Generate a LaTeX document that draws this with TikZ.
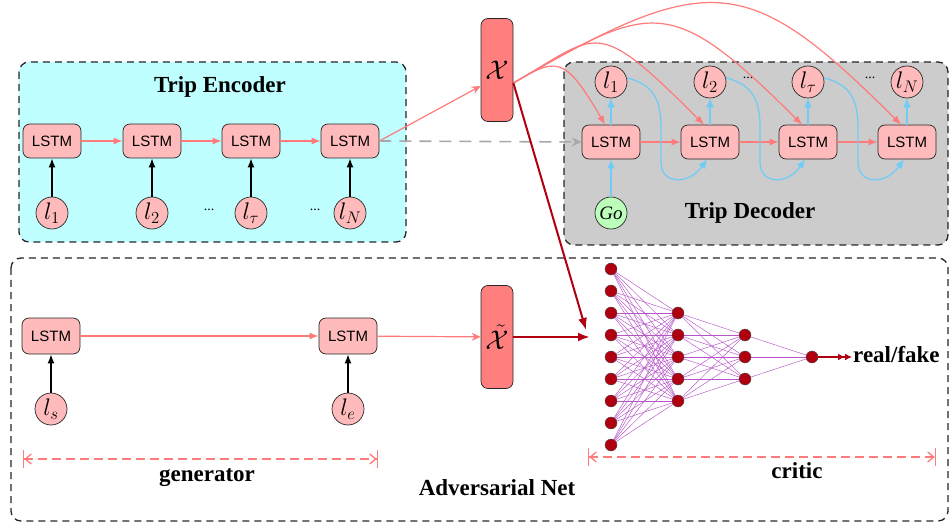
\RequirePackage{fix-cm}
\documentclass[tikz,border=0pt]{standalone}
\usepackage{fontspec}
\setmainfont{Liberation Serif}
\setsansfont{Liberation Sans}
\usetikzlibrary{arrows.meta,calc}

\definecolor{encfill}{HTML}{BFFFFF}
\definecolor{decfill}{HTML}{CCCCCC}
\definecolor{lstmfill}{HTML}{FFBBBB}
\definecolor{xfill}{HTML}{FF7F7F}
\definecolor{pinkline}{HTML}{FF7A7A}
\definecolor{blueline}{HTML}{70CCF5}
\definecolor{darkred}{HTML}{B00010}
\definecolor{nnedgecol}{HTML}{B555C8}
\definecolor{gofill}{HTML}{BBFFBB}
\definecolor{dashgray}{HTML}{A8A8A8}

\begin{document}
\begin{tikzpicture}[x=1pt,y=-1pt,
  groupbox/.style={draw=black!85, line width=1.3pt, dash pattern=on 7pt off 5pt, rounded corners=10pt},
  lstmbox/.style={draw=black!85, fill=lstmfill, rounded corners=7pt, minimum width=58pt, minimum height=34pt, inner sep=0pt, font=\sffamily\fontsize{15}{18}\selectfont, line width=0.7pt},
  locnode/.style={circle, draw=black!85, fill=lstmfill, minimum size=32pt, inner sep=0pt, font=\fontsize{24}{28}\selectfont, line width=0.7pt},
  gonode/.style={locnode, fill=gofill, font=\fontsize{19}{22}\selectfont},
  xbox/.style={draw=black!85, fill=xfill, rounded corners=7pt, minimum width=32pt, minimum height=103pt, inner sep=0pt, font=\fontsize{27}{30}\selectfont, line width=0.7pt},
  pinkarrow/.style={draw=pinkline, line width=1.2pt, -{Latex[length=9pt,width=7pt]}},
  pinkthin/.style={draw=pinkline, line width=1.2pt, -{Stealth[length=9pt,width=8pt]}},
  blackarrow/.style={draw=black, line width=1.5pt, -{Latex[length=9pt,width=7pt]}},
  bluearrow/.style={draw=blueline, line width=1.3pt, -{Latex[length=9pt,width=8pt]}},
  grayarrow/.style={draw=dashgray, line width=1.6pt, dash pattern=on 12pt off 8pt, -{Stealth[length=10pt,width=9pt]}},
  darkarrow/.style={draw=darkred, line width=2pt, -{Latex[length=12pt,width=9pt]}},
  dimline/.style={draw=pinkline, line width=1.3pt, dash pattern=on 9pt off 5pt, {Bar[width=18pt]Straight Barb[length=6pt,width=10pt]}-{Straight Barb[length=6pt,width=10pt]Bar[width=18pt]}},
  nnedge/.style={draw=nnedgecol, line width=0.45pt},
  nnnode/.style={circle, fill=darkred, draw=gray!60!black, line width=0.4pt, minimum size=12pt, inner sep=0pt},
  labelfont/.style={font=\bfseries\fontsize{23}{27}\selectfont},
  dotsfont/.style={font=\fontsize{14}{16}\selectfont}
]
\useasboundingbox (0,0) rectangle (950,529);

% group boxes
\draw[groupbox, fill=encfill] (19,62) rectangle (406,242);
\draw[groupbox, fill=decfill] (564,62) rectangle (948,245);
\draw[groupbox] (11,258) rectangle (948,521);

% titles
\node[labelfont] (tenc) at (220,87) {Trip Encoder};
\node[labelfont] (tdec) at (750,213) {Trip Decoder};
\node[labelfont] (tgen) at (207,478) {generator};
\node[labelfont] (tadv) at (497,488) {Adversarial Net};
\node[labelfont] (tcri) at (797,471) {critic};

% encoder
\foreach \n/\x/\lab in {1/52/l_1, 2/152/l_2, 3/251/l_\tau, 4/350/l_N} {
  \node[lstmbox] (e\n) at (\x,141) {LSTM};
  \node[locnode] (el\n) at (\x,213) {$\lab$};
  \draw[blackarrow] (el\n) -- (e\n);
}
\foreach \a/\b in {1/2,2/3,3/4} \draw[pinkarrow] (e\a) -- (e\b);
\node[dotsfont] (edots1) at (209,210) {...};
\node[dotsfont] (edots2) at (315,210) {...};

% latent X
\node[xbox] (X) at (497,70) {$\mathcal{X}$};
\coordinate (xs) at ($(X.east)+(0,13)$);
\draw[pinkthin] (e4.east) -- ($(X.west)+(0,16)$);

% decoder
\foreach \n/\x/\lab in {1/611/l_1, 2/710/l_2, 3/808/l_\tau, 4/907/l_N} {
  \node[lstmbox] (d\n) at (\x,142) {LSTM};
  \node[locnode] (dl\n) at (\x,82) {$\lab$};
  \draw[bluearrow] (d\n) -- (dl\n);
}
\foreach \a/\b in {1/2,2/3,3/4} \draw[pinkarrow] (d\a) -- (d\b);
\foreach \a/\b in {1/2,2/3,3/4}
  \draw[bluearrow] (dl\a.15) .. controls ($(dl\a)+(40,2)$) and ($(dl\a)+(50,15)$) .. ($(dl\a)+(50,45)$)
     -- ($(dl\a)+(50,80)$) .. controls ($(dl\a)+(50,103)$) and ($(dl\a)+(78,103)$) .. ([xshift=-3pt]d\b.south);
\node[dotsfont] (ddots1) at (748,78) {...};
\node[dotsfont] (ddots2) at (870,78) {...};
\node[gonode] (go) at (611,213) {\textit{Go}};
\draw[bluearrow] (go) -- (d1);

\draw[grayarrow] (e4.east) -- (d1.west);

% curves from X to decoder
\draw[pinkarrow] (xs) .. controls (556,58) and (564,54) .. ([xshift=-6pt]d1.north);
\draw[pinkarrow] (xs) .. controls (600,33) and (594,15) .. ([xshift=-6pt]d2.north);
\draw[pinkarrow] (xs) .. controls (652,3) and (669,-8) .. ([xshift=-6pt]d3.north);
\draw[pinkarrow] (xs) .. controls (710,-31) and (748,-28) .. ([xshift=-6pt]d4.north);

% generator
\node[lstmbox, minimum height=36pt] (g1) at (51,336) {LSTM};
\node[lstmbox, minimum height=36pt] (g2) at (348,336) {LSTM};
\node[locnode] (ls) at (51,409) {$l_s$};
\node[locnode] (le) at (348,409) {$l_e$};
\draw[blackarrow] (ls) -- (g1);
\draw[blackarrow] (le) -- (g2);
\draw[pinkarrow] (g1) -- (g2);
\node[xbox] (Xt) at (497,337) {$\tilde{\mathcal{X}}$};
\draw[pinkthin] (g2) -- (Xt);

% critic network
\foreach \i in {0,...,8} \coordinate (a\i) at (611,{269+22*\i});
\foreach \i in {0,...,4} \coordinate (b\i) at (678,{313+22*\i});
\foreach \i in {0,...,2} \coordinate (c\i) at (745,{335+22*\i});
\coordinate (o) at (812,357);
\foreach \i in {0,...,8} \foreach \j in {0,...,4} \draw[nnedge] (a\i) -- (b\j);
\foreach \i in {0,...,4} \foreach \j in {0,...,2} \draw[nnedge] (b\i) -- (c\j);
\foreach \j in {0,...,2} \draw[nnedge] (c\j) -- (o);
\foreach \i in {0,...,8} \node[nnnode] (na\i) at (a\i) {};
\foreach \i in {0,...,4} \node[nnnode] (nb\i) at (b\i) {};
\foreach \i in {0,...,2} \node[nnnode] (nc\i) at (c\i) {};
\node[nnnode] (no) at (o) {};
\node[labelfont, anchor=west, inner sep=1pt] (rf) at (852,355) {real/fake};
\draw[draw=darkred, line width=1.6pt, -{Latex[length=7pt,width=7pt]Latex[length=7pt,width=7pt]}] (no) -- (no -| rf.west);

% inputs to critic
\coordinate (cin1) at (586,330);
\coordinate (cin2) at (590,337);
\draw[darkarrow] (xs) -- (cin1);
\draw[darkarrow, line width=2.8pt] (Xt) -- (cin2);

% dimension lines
\coordinate (gdl) at (23,459);
\coordinate (gdr) at (378,459);
\draw[dimline] (gdl) -- (gdr);
\coordinate (cdl) at (588,457);
\coordinate (cdr) at (936,457);
\draw[dimline] (cdl) -- (cdr);
\end{tikzpicture}
\end{document}
